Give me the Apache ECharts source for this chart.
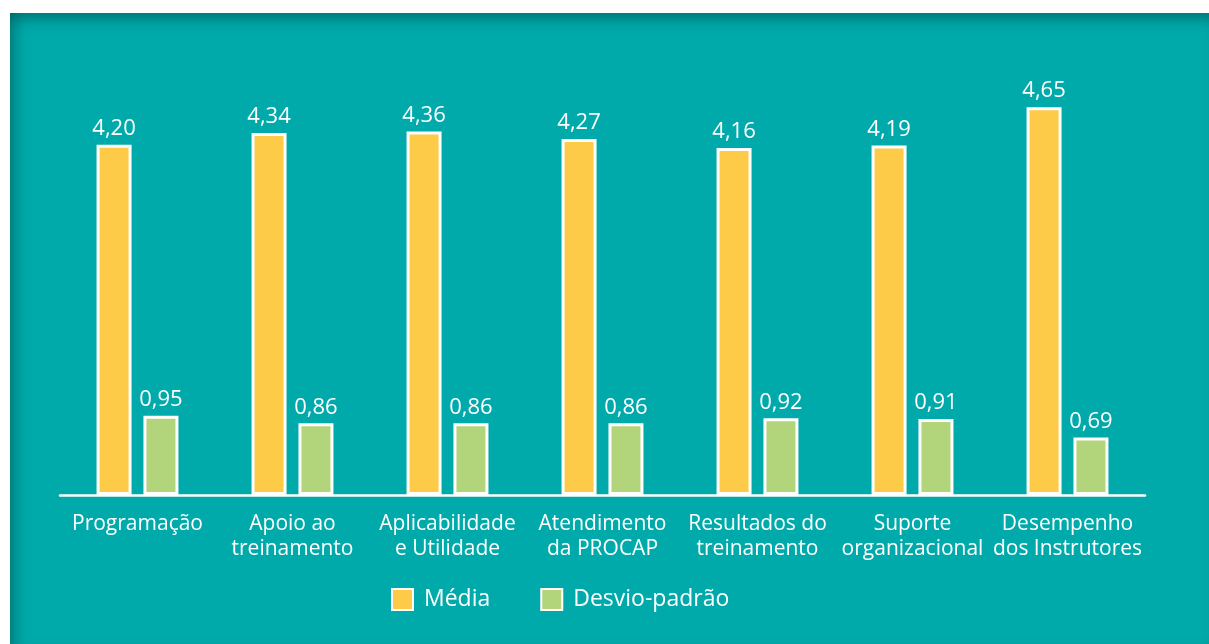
<!DOCTYPE html>
<html>
<head>
<meta charset="utf-8">
<script src="https://cdn.jsdelivr.net/npm/echarts@6/dist/echarts.min.js"></script>
<style>
  html, body { margin: 0; padding: 0; background: #fff; }
  #panel {
    position: absolute; left: 10px; top: 13px; width: 1199px; height: 631px;
    background: #00AAAA;
    box-shadow: inset 0 14px 14px -8px rgba(0,80,80,0.55), inset 14px 0 14px -8px rgba(0,80,80,0.45);
  }
  #chart { position: absolute; left: 0; top: 0; width: 1209px; height: 644px; }
</style>
</head>
<body>
<div id="panel"></div>
<div id="chart"></div>
<script>
// categorias e valores
var categories = [
  'Programação',
  'Apoio ao\ntreinamento',
  'Aplicabilidade\ne Utilidade',
  'Atendimento\nda PROCAP',
  'Resultados do\ntreinamento',
  'Suporte\norganizacional',
  'Desempenho\ndos Instrutores'
];
var media = [4.20, 4.34, 4.36, 4.27, 4.16, 4.19, 4.65];
var desvio = [0.95, 0.86, 0.86, 0.86, 0.92, 0.91, 0.69];

var fontFam = '"Open Sans", "Noto Sans", sans-serif';

function fmt(p) {
  return p.value.toFixed(2).replace('.', ',');
}

var myChart = echarts.init(document.getElementById('chart'));
var option = {
  backgroundColor: 'transparent',
  animation: false,
  grid: { left: 60, right: 64, top: 78, bottom: 149 },
  legend: {
    left: 391,
    top: 588,
    padding: 0,
    itemWidth: 21,
    itemHeight: 21,
    itemGap: 50,
    icon: 'rect',
    textStyle: { color: '#fff', fontSize: 23, fontFamily: fontFam, padding: [0, 0, 0, 6] },
    data: ['Média', 'Desvio-padrão']
  },
  xAxis: {
    type: 'category',
    data: categories,
    axisTick: { show: false },
    axisLine: { lineStyle: { color: '#fff', width: 2.5 } },
    axisLabel: {
      color: '#fff',
      fontSize: 21,
      fontFamily: fontFam,
      lineHeight: 25,
      margin: 17,
      interval: 0
    }
  },
  yAxis: {
    type: 'value',
    min: 0,
    max: 5,
    show: false,
    splitLine: { show: false }
  },
  series: [
    {
      name: 'Média',
      type: 'bar',
      data: media,
      barWidth: 35,
      barGap: '34%',
      itemStyle: { color: '#FDCB47', borderColor: '#fff', borderWidth: 3 },
      label: { show: true, position: 'top', distance: 5, color: '#fff', fontSize: 22, fontFamily: fontFam, formatter: fmt }
    },
    {
      name: 'Desvio-padrão',
      type: 'bar',
      data: desvio,
      barWidth: 35,
      itemStyle: { color: '#B2D47A', borderColor: '#fff', borderWidth: 3 },
      label: { show: true, position: 'top', distance: 5, color: '#fff', fontSize: 22, fontFamily: fontFam, formatter: fmt }
    }
  ]
};
myChart.setOption(option);
</script>
</body>
</html>
